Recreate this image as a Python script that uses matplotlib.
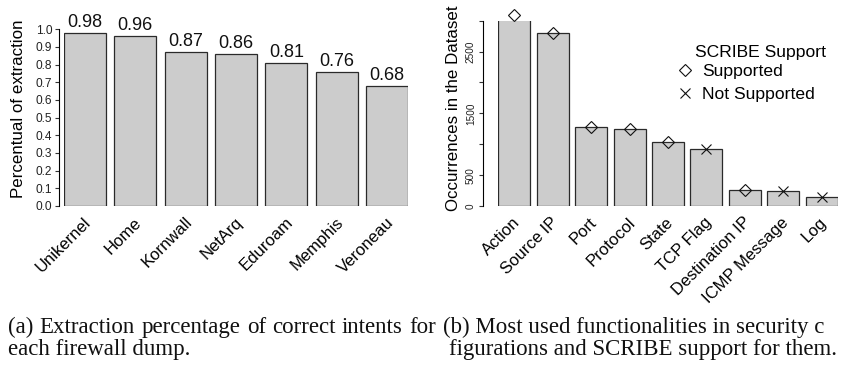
import numpy as np
import matplotlib.pyplot as plt
from matplotlib.lines import Line2D
from matplotlib.transforms import ScaledTranslation

# 防火墙导出数据的意图提取比例
dumps = ['Unikernel', 'Home', 'Kornwall', 'NetArq', 'Eduroam', 'Memphis', 'Veroneau']
extraction = [0.98, 0.96, 0.87, 0.86, 0.81, 0.76, 0.68]

# 安全配置中各功能出现次数及 SCRIBE 支持情况
features = ['Action', 'Source IP', 'Port', 'Protocol', 'State', 'TCP Flag',
            'Destination IP', 'ICMP Message', 'Log']
occurrences = [3090, 2800, 1280, 1240, 1030, 920, 255, 250, 140]
supported = [True, True, True, True, True, False, True, False, False]

caption_a = ['(a) Extraction percentage of correct intents for', 'each firewall dump.']
caption_b = ['(b) Most used functionalities in security c', 'figurations and SCRIBE support for them.']

SANS = 'Liberation Sans'
SERIF = 'Liberation Serif'
plt.rcParams['font.family'] = SANS

W, H = 842, 370
fig = plt.figure(figsize=(W / 100, H / 100), dpi=100)


def px_axes(x0, x1, y_top, y_bot):
    # 像素坐标 -> figure 坐标
    return fig.add_axes([x0 / W, 1 - y_bot / H, (x1 - x0) / W, (y_bot - y_top) / H])


def bar_positions(n):
    # R barplot 默认 width=1, space=0.2
    return 0.7 + 1.2 * np.arange(n)


def style_axes(ax, offset):
    for s in ['top', 'right', 'bottom']:
        ax.spines[s].set_visible(False)
    ax.spines['left'].set_position(('outward', offset))
    ax.tick_params(axis='x', length=0)
    ax.tick_params(axis='y', length=3, width=0.8, color='#333333')


def rotate_labels(ax, dx, dy):
    for lbl in ax.get_xticklabels():
        lbl.set_rotation(45)
        lbl.set_ha('right')
        lbl.set_va('center')
        lbl.set_rotation_mode('anchor')
        lbl.set_transform(lbl.get_transform() + ScaledTranslation(dx / 100, dy / 100, fig.dpi_scale_trans))


def caption_line(text, x0, y, x1=None, **kw):
    # 两端对齐：按词放置，把剩余宽度平均分给词间空隙
    words = text.split(' ')
    if x1 is None:
        fig.text(x0 / W, 1 - y / H, text, ha='left', va='baseline', **kw)
        return
    items = [fig.text(0, 0, w, ha='left', va='baseline', **kw) for w in words]
    r = fig.canvas.get_renderer()
    widths = [t.get_window_extent(r).width for t in items]
    gap = (x1 - x0 - sum(widths)) / (len(words) - 1)
    x = x0
    for t, w in zip(items, widths):
        t.set_position((x / W, 1 - y / H))
        x += w + gap


bar_kw = dict(width=1.0, color='#cccccc', edgecolor='#2a2a2a', linewidth=0.9)

# ---- (a) 提取比例 ----
ax1 = px_axes(63.7, 408.3, 29.3, 206)
x1 = bar_positions(len(dumps))
bars = ax1.bar(x1, extraction, **bar_kw)
ax1.set_xlim(0.2, x1[-1] + 0.5)
ax1.set_ylim(0, 1.0)
style_axes(ax1, 3.2)
ax1.spines['left'].set_bounds(0, 1.0)
ax1.set_yticks(np.arange(0, 1.01, 0.1))
ax1.set_yticklabels([f'{v:.1f}' for v in np.arange(0, 1.01, 0.1)], fontsize=8.6, color='#222222')
ax1.tick_params(axis='y', pad=2)
ax1.set_xticks(x1)
ax1.set_xticklabels(dumps, fontsize=12.0)
rotate_labels(ax1, 4, -9)
for b, v in zip(bars, extraction):
    ax1.annotate(f'{v:.2f}', xy=(b.get_x() + b.get_width() / 2, v), xytext=(0, 1.5),
                 textcoords='offset points', ha='center', va='bottom',
                 fontsize=13, color='#111111', annotation_clip=False)
ax1.set_ylabel('Percentual of extraction', fontsize=12.2)
ax1.yaxis.set_label_coords(-0.109, 0.549)

# ---- (b) 功能出现次数 ----
ax2 = px_axes(498.3, 837.6, 20.7, 206)
x2 = bar_positions(len(features))
ax2.bar(x2, occurrences, **bar_kw)
for xi, yi, ok in zip(x2, occurrences, supported):
    if ok:
        ax2.plot(xi, yi, marker='D', markersize=6.2, markerfacecolor='none',
                 markeredgecolor='#111111', markeredgewidth=0.8, clip_on=False)
    else:
        ax2.plot(xi, yi, marker='x', markersize=6.5, color='#111111',
                 markeredgewidth=0.8, clip_on=False)
ax2.set_xlim(0.2, x2[-1] + 0.5)
ax2.set_ylim(0, 3000)
style_axes(ax2, 11.2)
ax2.spines['left'].set_bounds(0, 3000)
yt = np.arange(0, 3001, 500)
ax2.set_yticks(yt)
ax2.set_yticklabels([str(v) if v in (0, 500, 1500, 2500) else '' for v in yt],
                    fontsize=7.2, rotation=90, va='center', color='#222222')
ax2.tick_params(axis='y', pad=2)
ax2.set_xticks(x2)
ax2.set_xticklabels(features, fontsize=12.0)
rotate_labels(ax2, 3, -9)
ax2.set_ylabel('Occurrences in the Dataset', fontsize=12.2)
ax2.yaxis.set_label_coords(-0.11, 0.529)

# 图例：标题单独放置，略偏右
handles = [Line2D([], [], linestyle='none', marker='D', markersize=6.2, markerfacecolor='none',
                  markeredgecolor='#111111', markeredgewidth=0.8),
           Line2D([], [], linestyle='none', marker='x', markersize=6.5, color='#111111',
                  markeredgewidth=0.8)]
leg = ax2.legend(handles, ['Supported', 'Not Supported'],
                 frameon=False, fontsize=12.6,
                 loc='upper left', bbox_to_anchor=((676 - 498.3) / 339.3, (206 - 63.5) / 185.3),
                 handlelength=1.0, handletextpad=0.5, labelspacing=0.45, borderpad=0,
                 borderaxespad=0)
fig.text(695 / W, 1 - 53 / H, 'SCRIBE Support', fontsize=12.6, ha='left', va='center')

# ---- 图注 ----
cap_kw = dict(family=SERIF, fontsize=16.5, color='#111111')
caption_line(caption_a[0], 8, 333, 436, **cap_kw)
caption_line(caption_a[1], 8, 355, **cap_kw)
caption_line(caption_b[0], 443, 333, **cap_kw)
caption_line(caption_b[1], 449, 355, **cap_kw)

fig.savefig('out.png', dpi=100)
